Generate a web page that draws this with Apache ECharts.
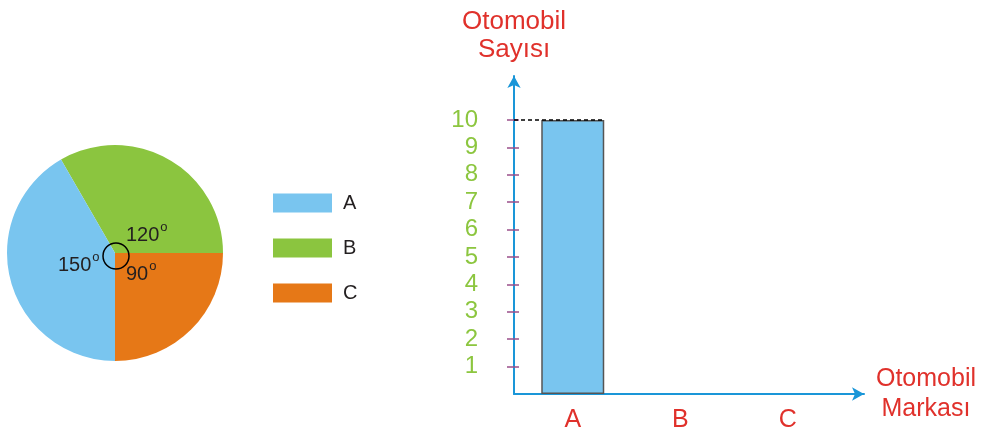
<!DOCTYPE html>
<html><head><meta charset="utf-8">
<script src="https://cdn.jsdelivr.net/npm/echarts@6/dist/echarts.min.js"></script>
<style>html,body{margin:0;padding:0;background:#fff}#c{width:985px;height:434px}</style>
</head><body><div id="c"></div>
<script>
const pieNames = ['A', 'B', 'C'];
const pieAngles = [150, 120, 90];
const pieColors = ['#79c5ef', '#8bc53f', '#e67817'];
const barCategories = ['A', 'B', 'C'];
const barValues = [10, 0, 0];
const yTicks = [1, 2, 3, 4, 5, 6, 7, 8, 9, 10];

const FONT = 'Liberation Sans, Arial, sans-serif';
const RED = '#e0312b', GREEN = '#8cc63f', PURPLE = '#9b4f8b', BLUE = '#1a96d8', INK = '#231f20';

// draw order so that slices sit as in the picture (start at B, clockwise)
const order = [1, 2, 0];
const pieData = order.map(i => ({ name: pieNames[i], value: pieAngles[i], itemStyle: { color: pieColors[i] } }));

const barData = barValues.map(v => ({ value: v, itemStyle: v === 0 ? { borderWidth: 0 } : {} }));

function deg(v) { return '{n|' + v + '}{s|o}'; }
const degRich = {
  n: { fontSize: 20, fontFamily: FONT, fill: INK, color: INK },
  s: { fontSize: 13, fontFamily: FONT, fill: INK, color: INK, padding: [0, 0, 16, 1] }
};

const chart = echarts.init(document.getElementById('c'), null, { renderer: 'canvas' });
chart.setOption({
  animation: false,
  textStyle: { fontFamily: FONT },
  legend: {
    data: pieNames, orient: 'vertical', left: 273, top: 193, padding: 0,
    itemWidth: 59, itemHeight: 19, itemGap: 25, icon: 'rect',
    textStyle: { fontSize: 20, color: INK, padding: [0, 0, 0, 6] }
  },
  grid: [
    { left: 519, top: 120, width: 322.5, height: 274 },
    { left: 514, top: 76, right: 121, bottom: 40 },
    { left: 514, top: 120, width: 91, height: 274 }
  ],
  xAxis: [
    { gridIndex: 0, type: 'category', data: barCategories,
      axisLine: { show: false },
      axisTick: { alignWithLabel: true, length: 8, lineStyle: { color: PURPLE, width: 1.5 } },
      axisLabel: { color: RED, fontSize: 25, margin: 14 } },
    { gridIndex: 1, type: 'value', min: 0, max: 1, splitLine: { show: false },
      axisTick: { show: false }, axisLabel: { show: false },
      axisLine: { show: true, symbol: ['none', 'arrow'], symbolSize: [10, 12], lineStyle: { color: BLUE, width: 2 } },
      name: 'Otomobil\nMarkası', nameLocation: 'end', nameGap: 62,
      nameTextStyle: { color: RED, fontSize: 25, lineHeight: 30, align: 'center', verticalAlign: 'middle', padding: [20, 0, 0, 0] } },
    { gridIndex: 2, type: 'value', min: 0, max: 1, show: false }
  ],
  yAxis: [
    { gridIndex: 0, type: 'value', min: 0, max: 10, interval: 1, offset: 5,
      axisLine: { show: false }, splitLine: { show: false },
      axisTick: { show: true, customValues: yTicks, length: 7, lineStyle: { color: PURPLE, width: 1.5 } },
      axisLabel: { customValues: yTicks, color: GREEN, fontSize: 24, margin: 36 } },
    { gridIndex: 0, type: 'value', min: 0, max: 10, interval: 1, offset: 5, position: 'left',
      axisLine: { show: false }, splitLine: { show: false }, axisLabel: { show: false },
      axisTick: { show: true, inside: true, customValues: yTicks, length: 5, lineStyle: { color: PURPLE, width: 1.5 } } },
    { gridIndex: 1, type: 'value', min: 0, max: 1, splitLine: { show: false },
      axisTick: { show: false }, axisLabel: { show: false },
      axisLine: { show: true, symbol: ['none', 'arrow'], symbolSize: [10, 12], lineStyle: { color: BLUE, width: 2 } },
      name: 'Otomobil\nSayısı', nameLocation: 'end', nameGap: 12,
      nameTextStyle: { color: RED, fontSize: 26, lineHeight: 28, align: 'center' } },
    { gridIndex: 2, type: 'value', min: 0, max: 10, show: false }
  ],
  series: [
    { type: 'pie', name: 'dağılım', center: [115, 253], radius: 108, startAngle: 120, clockwise: true,
      label: { show: false }, labelLine: { show: false }, silent: true, emphasis: { disabled: true },
      data: pieData },
    { type: 'pie', name: 'merkez', center: [116, 256], radius: 13, silent: true, emphasis: { disabled: true },
      label: { show: false }, labelLine: { show: false },
      itemStyle: { color: 'rgba(0,0,0,0)', borderColor: '#000', borderWidth: 1.5 },
      data: [{ name: 'merkez', value: 360 }] },
    { type: 'bar', name: 'Otomobil', xAxisIndex: 0, yAxisIndex: 0, barWidth: 63, data: barData,
      itemStyle: { color: '#79c5ef', borderColor: '#555', borderWidth: 1.5 } },
    { type: 'line', name: 'kılavuz', xAxisIndex: 2, yAxisIndex: 3, data: [], z: 10,
      markLine: { silent: true, symbol: 'none', label: { show: false },
        lineStyle: { type: [4, 3], color: '#000', width: 1.5 },
        data: [{ yAxis: barValues[0] }] } }
  ],
  graphic: [
    { type: 'text', left: 126, top: 221, z: 100, style: { text: deg(pieAngles[1]), rich: degRich, fill: INK, fontSize: 20, fontFamily: FONT } },
    { type: 'text', left: 58, top: 251, z: 100, style: { text: deg(pieAngles[0]), rich: degRich, fill: INK, fontSize: 20, fontFamily: FONT } },
    { type: 'text', left: 126, top: 260, z: 100, style: { text: deg(pieAngles[2]), rich: degRich, fill: INK, fontSize: 20, fontFamily: FONT } }
  ]
});
</script></body></html>
